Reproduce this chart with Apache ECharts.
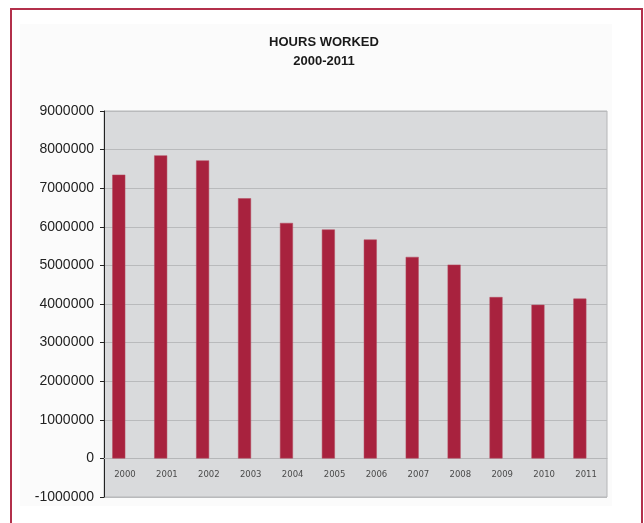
<!DOCTYPE html>
<html>
<head>
<meta charset="utf-8">
<script src="https://cdn.jsdelivr.net/npm/echarts@6/dist/echarts.min.js"></script>
<style>
html,body{margin:0;padding:0;background:#ffffff;overflow:hidden;}
#chart{position:absolute;left:0;top:0;width:644px;height:523px;}
#frame{position:absolute;left:10px;top:8px;width:633px;height:540px;border:2px solid #b3304b;box-sizing:border-box;pointer-events:none;}
</style>
</head>
<body>
<div id="chart"></div>
<div id="frame"></div>
<script>
const titleLines = ['HOURS WORKED', '2000-2011'];
const years = ['2000','2001','2002','2003','2004','2005','2006','2007','2008','2009','2010','2011'];
const hoursWorked = [7350000, 7850000, 7720000, 6740000, 6100000, 5930000, 5670000, 5220000, 5020000, 4180000, 3980000, 4140000];
const yMin = -1000000, yMax = 9000000, yStep = 1000000;

const gridTop = 111, gridBottom = 26, chartHeight = 523;
const plotHeight = chartHeight - gridTop - gridBottom;
const zeroOffset = -plotHeight * (0 - yMin) / (yMax - yMin);

const chart = echarts.init(document.getElementById('chart'), null, {renderer: 'canvas'});
chart.setOption({
  animation: false,
  backgroundColor: '#ffffff',
  graphic: [{
    type: 'rect', left: 20, top: 24, z: -10,
    shape: {width: 592, height: 482},
    style: {fill: '#fbfbfb'}
  }],
  title: {
    text: titleLines.join('\n'),
    left: 319, top: 28, textAlign: 'center',
    textStyle: {fontFamily: 'Liberation Sans, Arial, sans-serif', fontSize: 13, fontWeight: 'bold', color: '#1a1a1a', lineHeight: 19}
  },
  grid: {
    left: 104, right: 37, top: gridTop, bottom: gridBottom,
    show: true, backgroundColor: '#d9dadc', borderColor: '#b5b6b8', borderWidth: 1
  },
  xAxis: {
    type: 'category', data: years, offset: zeroOffset,
    axisLine: {show: true, onZero: false, lineStyle: {color: '#b5b6b8', width: 1}},
    axisTick: {show: false},
    axisLabel: {fontFamily: 'DejaVu Sans, sans-serif', fontSize: 8.5, color: '#4a4a4a', margin: 12}
  },
  yAxis: {
    type: 'value', min: yMin, max: yMax, interval: yStep,
    axisLine: {show: true, lineStyle: {color: '#222', width: 1}},
    axisTick: {show: true, length: 4, lineStyle: {color: '#222'}},
    axisLabel: {fontFamily: 'Liberation Sans, Arial, sans-serif', fontSize: 14, color: '#222', margin: 10,
      formatter: v => String(v)},
    splitLine: {show: true, lineStyle: {color: '#b9babc', width: 1}}
  },
  series: [{
    type: 'bar', name: 'Hours worked', data: hoursWorked, barWidth: 13, barGap: '-5%',
    itemStyle: {color: '#a8223e', borderColor: '#b54a5e', borderWidth: 0.5}
  }, {
    type: 'bar', name: '', data: years.map(() => null), barWidth: 13, silent: true
  }]
});
</script>
</body>
</html>
